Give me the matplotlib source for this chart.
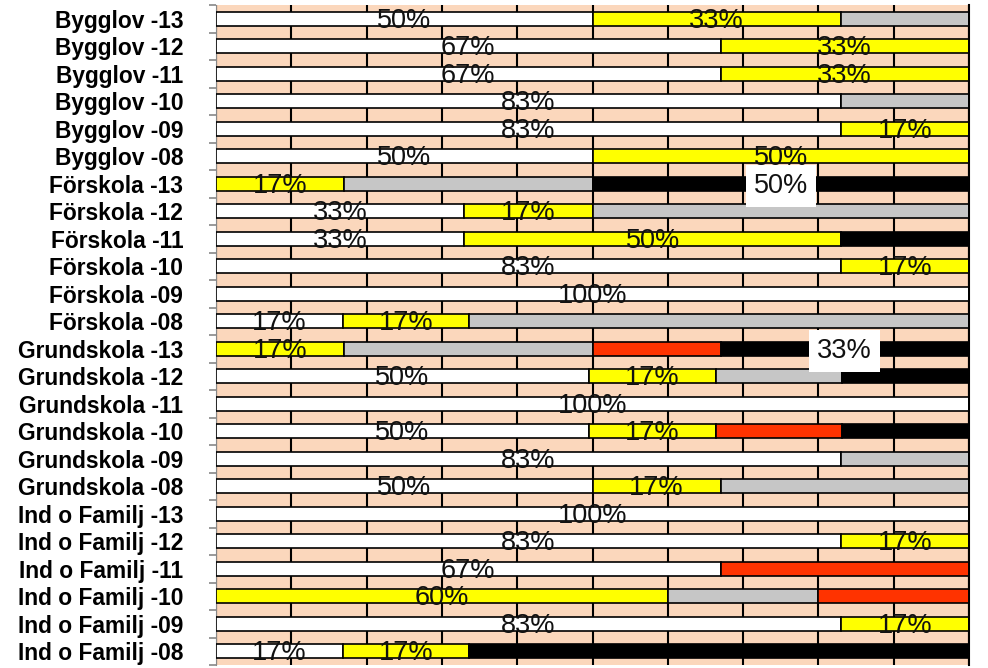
import numpy as np
import matplotlib
matplotlib.use('Agg')
import matplotlib.pyplot as plt

plt.rcParams['font.family'] = ['Liberation Sans', 'DejaVu Sans']

categories = ['Bygglov -13', 'Bygglov -12', 'Bygglov -11', 'Bygglov -10', 'Bygglov -09', 'Bygglov -08',
              'Förskola -13', 'Förskola -12', 'Förskola -11', 'Förskola -10', 'Förskola -09', 'Förskola -08',
              'Grundskola -13', 'Grundskola -12', 'Grundskola -11', 'Grundskola -10', 'Grundskola -09', 'Grundskola -08',
              'Ind o Familj -13', 'Ind o Familj -12', 'Ind o Familj -11', 'Ind o Familj -10', 'Ind o Familj -09', 'Ind o Familj -08']

white = [50, 67, 67, 83, 83, 50, 0, 33, 33, 83, 100, 17, 0, 50, 100, 50, 83, 50, 100, 83, 67, 0, 83, 17]
yellow = [33, 33, 33, 0, 17, 50, 17, 17, 50, 17, 0, 17, 17, 17, 0, 17, 0, 17, 0, 17, 0, 60, 17, 17]
gray = [17, 0, 0, 17, 0, 0, 33, 50, 0, 0, 0, 67, 33, 17, 0, 0, 17, 33, 0, 0, 0, 20, 0, 0]
red = [0, 0, 0, 0, 0, 0, 0, 0, 0, 0, 0, 0, 17, 0, 0, 17, 0, 0, 0, 0, 33, 20, 0, 0]
black = [0, 0, 0, 0, 0, 0, 50, 0, 17, 0, 0, 0, 33, 17, 0, 17, 0, 0, 0, 0, 0, 0, 0, 67]

# which black segments carry a (boxed) label
black_labeled = ['Förskola -13', 'Grundskola -13']

series = [white, yellow, gray, red, black]
colors = ['#FFFFFF', '#FFFF00', '#C6C6C6', '#FF3300', '#000000']

data = np.array(series, dtype=float)
frac = data / data.sum(axis=0)

fig = plt.figure(figsize=(9.88, 6.68), dpi=100)
ax = fig.add_axes([216 / 988, 3 / 668, 753 / 988, 660 / 668])
ax.set_facecolor('#FBD7BC')

y = np.arange(len(categories))
left = np.zeros(len(categories))
for k in range(len(series)):
    ax.barh(y, frac[k], left=left, height=0.5, color=colors[k],
            edgecolor='black', linewidth=1.2, zorder=3)
    for i in range(len(categories)):
        v = series[k][i]
        if v == 0:
            continue
        cx = left[i] + frac[k][i] / 2
        if k in (0, 1):
            ax.text(cx, y[i] + 0.08, '%d%%' % v, ha='center', va='center',
                    fontsize=19.5, color='#111111', zorder=5)
        elif k == 4 and categories[i] in black_labeled:
            ax.text(cx, y[i] + 0.08, '%d%%' % v, ha='center', va='center',
                    fontsize=19.5, color='#111111', zorder=6,
                    bbox=dict(boxstyle='square,pad=0.3', fc='white', ec='none'))
    left += frac[k]

ax.set_xlim(0, 1)
ax.set_ylim(len(categories) - 0.5, -0.5)
ax.set_xticks(np.linspace(0, 1, 11))
ax.tick_params(axis='x', length=0, labelbottom=False)
ax.grid(axis='x', color='black', linewidth=1.5, zorder=1)
ax.set_axisbelow(True)

ax.set_yticks(y)
ax.set_yticklabels(categories, fontsize=16.4, fontweight='bold')
ax.set_yticks(np.arange(len(categories) + 1) - 0.5, minor=True)
ax.tick_params(axis='y', which='major', length=0, pad=23.5)
ax.tick_params(axis='y', which='minor', length=5, width=1.2, color='#888888')

for s in ['top', 'bottom']:
    ax.spines[s].set_visible(False)
ax.spines['left'].set_color('#888888')
ax.spines['right'].set_color('black')
ax.spines['right'].set_linewidth(1.5)

fig.savefig('out.png', dpi=100)
